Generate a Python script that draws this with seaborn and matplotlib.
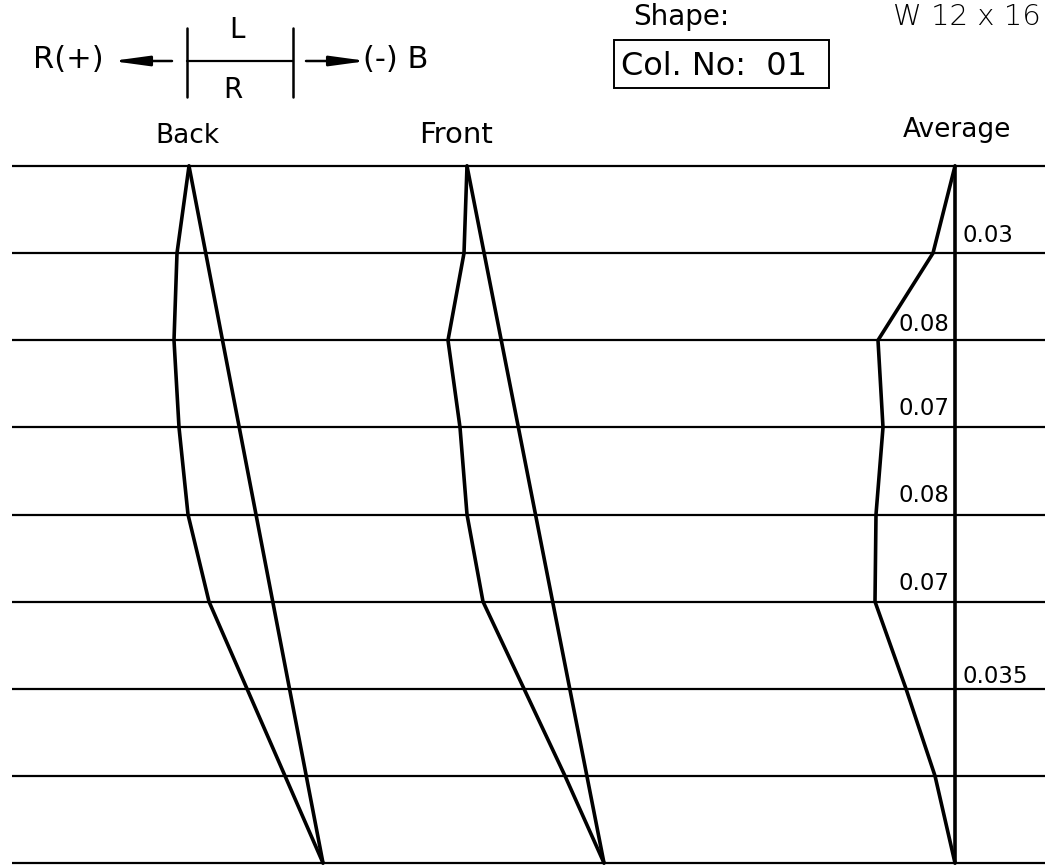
import numpy as np
import pandas as pd
import matplotlib
matplotlib.use("Agg")
import matplotlib.pyplot as plt
from matplotlib.patches import Rectangle
import seaborn as sns

sns.set_style("white")
plt.rcParams["font.family"] = ["DejaVu Sans"]
plt.rcParams["text.color"] = "black"

W, H = 1045, 865

# storey levels, roof (0) down to base (8)
levels = list(range(9))

# deflected shapes (horizontal position per level)
back_profile = [189, 177, 174, 179, 188, 209, 247, 285, 323]
back_chord = [189, 323]
front_profile = [467, 464, 448, 460, 467, 483, 524, 565, 604]
front_chord = [467, 604]
average_profile = [955, 933, 878, 883, 876, 875, 906, 935, 955]
average_axis = [955, 955]

# storey values written next to the average shape
avg_labels = ["0.03", "0.08", "0.07", "0.08", "0.07", "0.035"]
avg_label_side = ["right", "left", "left", "left", "left", "right"]
avg_label_pos = [0.80, 0.82, 0.78, 0.78, 0.79, 0.86]

column_titles = ["Back", "Front", "Average"]

rows = []
for name, xs, ys in [("back", back_profile, levels),
                     ("back_chord", back_chord, [0, 8]),
                     ("front", front_profile, levels),
                     ("front_chord", front_chord, [0, 8]),
                     ("average", average_profile, levels),
                     ("average_axis", average_axis, [0, 8])]:
    rows += [dict(series=name, x=x, level=y) for x, y in zip(xs, ys)]
df = pd.DataFrame(rows)

fig = plt.figure(figsize=(W / 100, H / 100), dpi=100)

# main drawing area: level 0 at y=166px, level 8 at y=863px
ax = fig.add_axes([0, 2 / H, 1, 697 / H])
ax.set_xlim(0, W)
ax.set_ylim(8, 0)
ax.axis("off")

ax.hlines(levels, 12, W, color="black", lw=1.6, clip_on=False)
sns.lineplot(data=df, x="x", y="level", units="series", estimator=None,
             sort=False, color="black", lw=2.6, legend=False, ax=ax)
for ln in ax.lines:
    ln.set_clip_on(False)

for i, (lab, side, f) in enumerate(zip(avg_labels, avg_label_side, avg_label_pos)):
    if side == "left":
        ax.text(949, i + f, lab, ha="right", va="center", fontsize=16.5)
    else:
        ax.text(962, i + f, lab, ha="left", va="center", fontsize=16.5)

# header, in pixel coordinates
hax = fig.add_axes([0, 0, 1, 1])
hax.set_xlim(0, W)
hax.set_ylim(H, 0)
hax.axis("off")

hax.text(33, 68, "R(+)", fontsize=22, va="baseline")
hax.text(363, 68, "(-) B", fontsize=22, va="baseline")
hax.text(237, 38, "L", fontsize=20, ha="center", va="baseline")
hax.text(233, 98, "R", fontsize=20, ha="center", va="baseline")
hax.plot([187, 187], [28, 97], color="black", lw=1.8)
hax.plot([293, 293], [28, 97], color="black", lw=1.8)
hax.plot([187, 293], [61, 61], color="black", lw=1.6)
arrow = dict(arrowstyle="-|>,head_length=2.2,head_width=0.3", color="black",
             lw=1.8, shrinkA=0, shrinkB=0)
hax.annotate("", xy=(112, 61), xytext=(172, 61), arrowprops=arrow)
hax.annotate("", xy=(367, 61), xytext=(306, 61), arrowprops=arrow)

hax.text(633, 25, "Shape:", fontsize=20, va="baseline")
hax.add_patch(Rectangle((614, 40), 215, 48, fill=False, lw=1.4, color="black"))
hax.text(621, 75, "Col. No:  01", fontsize=23, va="baseline")
hax.text(893, 25, "W 12 x 16", fontsize=21, va="baseline", fontweight="light")

for title, x, y, fs in zip(column_titles, [187, 456, 957], [143, 143, 137], [19, 21, 19]):
    hax.text(x, y, title, fontsize=fs, ha="center", va="baseline")

fig.savefig("out.png", dpi=100, facecolor="white")
